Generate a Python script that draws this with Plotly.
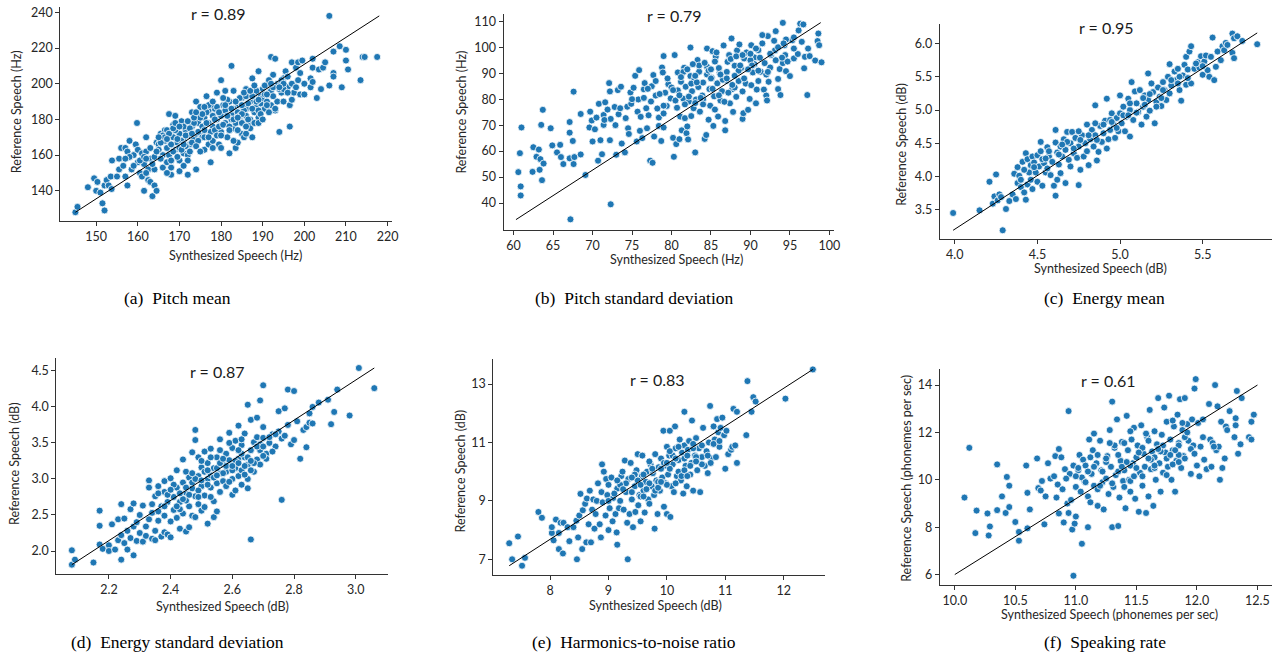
import plotly.graph_objects as go

W, H = 1286, 658

# ---------------- data ----------------
a_x = [145,145.5,148,149.5,150,150.3,151,151.5,152,152,152.5,153,153.5,153.7,153.8,155.5,155.5,156,156.5,157,157.5,157,157.5,158,158.5,159,159.5,159.8,160,160,160.5,161,161,161.5,161.5,162,162,162.5,162.5,163,163,163.5,164,164.5,164.5,165,165.5,166,166,166.5,167,167,167.5,168,168,168.5,168.5,169,169,169.5,170,170,170.5,171,171,171.5,172,172,172.5,173,173,173.5,174,174,174.5,175,175,175.5,176,176,176.5,177,177,177.5,178,178,178.5,179,179,179.5,180,180,180.5,181,181,181.5,182,182,182.5,182.5,183,183,183.5,184,184,184.5,185,185,185.5,186,186,186.5,187,187,187.5,187.5,188,188,188.5,189,189,189.5,190,190,190.5,191,191.5,192,192,192.5,193,193,193.5,193.5,194,194.5,195,195,195.5,196,196.5,196.5,197,197,197.5,198,198.5,198.5,199,199,199.5,200,200,201.5,201.5,202,202,202,203,203.5,204,204.5,205,206,206,207,207,207,208.5,209,210,210,210.5,213.5,214,214.5,217.5,
       160.5,161.5,162,163,164,165,165.5,166.5,167,167.5,168,168.5,169,169.5,170,170.5,171,171.5,172,172.5,173,173.5,174,174.5,175,175.5,176,176.5,177,177.5,178,178.5,179,179.5,180,180.5,181,181.5,182,182.5,183,183.5,184,184.5,185,185.5,186,186.5,187,187.5,188,188.5,189,189.5,190,190.5,191,191.5,192,192.5,193,194,194.5,195,196,197,198,186,184,178,176,174,172,170,168,166,164,162,159,158,157,155,167,171,183,185,180,177,191,189,186,
       163.5,164.5,165.5,166.5,167.5,168.5,169.5,170.5,171.5,172.5,173.5,174.5,175.5,176.5,177.5,178.5,179.5,180.5,181.5,182.5,183.5,184.5,185.5,186.5,187.5,188.5,189.5,190.5,191.5,192.5,165,167,169,171,173,175,177,179,181,183,185,187,189,191,193,195,170,172,174,176,178,180,182,184,186,188,190,192,194,196]
a_y = [128,131,142,147,140,145,139,133,129,143,146,143,148,141,157,152,158,164,154,148,143,164,162,168,152,160,166,178,163,156,150,148,161,140,155,170,162,146,152,145,158,137,143,140,167,166,172,160,153,174,164,156,183,149,153,170,177,163,182,167,157,172,179,161,168,174,160,149,166,184,176,170,152,190,178,187,173,170,181,163,193,166,185,156,176,168,186,195,180,166,202,173,188,196,178,170,161,190,210,183,175,196,164,188,167,180,172,192,170,197,186,177,190,180,170,203,194,184,188,207,181,193,197,188,186,199,195,215,188,205,214,185,200,190,173,195,203,190,207,198,176,188,212,200,195,209,202,212,194,206,213,200,194,203,198,214,209,201,192,208,197,209,212,238,199,218,206,204,221,198,219,213,208,202,215,215,215,
       157,159,150,164,159,163,158,168,174,160,166,162,174,159,164,168,176,165,171,162,167,178,172,168,181,176,170,184,178,173,182,174,187,176,182,177,185,191,176,180,186,178,184,192,178,185,182,189,175,186,178,196,185,189,192,199,190,184,196,193,199,197,202,197,204,191,198,172,174,164,174,165,157,151,157,171,152,158,154,159,158,148,150,154,168,188,164,170,188,178,193,
       155,162,167,170,172,175,169,163,171,175,181,173,183,178,188,180,184,192,182,186,190,182,195,180,193,190,183,194,202,198,170,169,178,166,172,162,188,171,188,180,183,196,191,194,186,200,176,179,184,187,190,171,174,181,176,199,180,200,198,195]
a_line_x = [145, 218]
a_line_y = [128, 238]

b_x = [60.6,60.8,60.9,60.9,61.0,62.4,62.5,62.9,63.2,63.4,63.5,63.6,63.7,63.8,63.3,64.7,64.9,65.5,65.9,66.0,66.3,67.1,67.1,67.1,67.2,67.5,67.6,67.7,67.6,68.5,69.1,68.5,69.7,69.6,69.9,70.0,70.3,70.5,70.7,70.8,71.0,71.2,71.4,71.4,71.6,71.9,72.1,72.2,72.2,72.3,72.3,72.8,72.9,73.0,73.2,73.3,73.6,73.7,74.1,74.2,74.4,74.5,74.6,74.8,74.9,75.2,75.4,75.6,75.7,75.8,75.9,76.0,76.1,76.3,76.5,76.6,76.8,76.9,77.1,77.3,77.4,77.6,77.7,77.8,78.0,78.2,78.4,78.4,78.7,78.8,78.9,79.0,79.0,79.2,79.4,79.6,79.9,80.2,80.3,80.4,80.6,80.7,80.8,80.8,81.0,81.1,81.2,81.3,81.5,81.6,81.7,81.8,81.9,82.1,82.2,82.4,82.4,82.5,82.6,82.8,82.9,83.0,83.1,83.3,83.4,83.5,83.6,83.9,84.0,84.2,84.4,84.5,84.5,84.7,84.8,84.9,85.1,85.2,85.3,85.4,85.5,85.6,85.8,85.9,86.1,86.2,86.4,86.6,86.8,86.8,87.0,87.1,87.3,87.4,87.6,87.7,87.8,88.0,88.2,88.3,88.5,88.6,88.8,89.0,89.1,89.2,89.4,89.6,89.7,89.9,90.1,90.1,90.3,90.5,90.7,90.8,91.0,91.3,91.7,91.8,92.0,92.1,92.2,92.3,92.5,92.6,93.1,93.2,93.5,93.7,93.8,94.1,94.1,94.3,94.4,94.5,94.7,95.0,95.3,95.5,96.0,96.1,96.3,96.5,96.7,96.8,96.9,97.2,97.3,97.5,98.2,98.5,98.6,98.7,99.0,95.5,93.5,91.5,
       76.5,77.5,78.5,79.5,80.5,81.5,82.5,83.5,84.5,85.5,86.5,87.5,88.5,89.5,90.5,91.5,92.5,93.5,94.5,95.5,78,80,82,84,86,88,90,92,94,79,81,83,85,87,89,91,93,82,84,86,88,90,
       80.2,81.2,82.2,83.2,84.2,85.2,86.2,87.2,88.2,89.2,90.2,91.2,92.2,93.2,94.2,81.7,82.7,83.7,84.7,85.7,86.7,87.7,88.7,89.7,90.7,83.0,85.0,87.0,89.0,91.0,77.0,79.0,75.0,73.5,71.5]
b_y = [51.9,59.2,46.4,42.9,69.1,52.0,61.5,57.8,60.6,56.9,70.1,48.8,75.9,55.2,52.8,68.8,62.2,59.5,62.4,57.7,55.0,71.2,67.1,57.2,33.7,63.9,82.9,57.7,55.0,58.7,50.8,74.3,75.2,69.1,71.8,63.7,68.4,72.9,56.3,78.2,64.2,58.8,73.9,70.1,78.8,76.0,86.2,83.0,64.2,39.5,72.4,77.0,70.0,58.6,83.5,74.2,84.8,62.9,59.5,72.7,77.1,68.8,66.6,82.6,78.2,84.4,89.0,63.7,75.2,79.9,91.2,67.8,73.2,65.0,83.8,86.2,76.5,68.8,73.8,56.3,79.1,55.5,89.3,65.6,81.4,76.4,72.9,69.7,63.9,92.2,90.3,96.6,69.1,82.5,77.4,85.8,80.3,65.1,57.8,97.0,62.7,76.7,83.4,90.3,64.6,73.3,86.7,68.0,80.2,92.1,72.7,84.8,66.9,64.5,79.1,88.9,99.9,73.5,83.1,76.5,87.8,59.5,79.9,95.1,84.7,90.6,75.2,81.4,86.4,64.7,66.2,99.5,92.5,72.1,83.9,77.5,88.3,98.5,69.7,81.1,76.0,96.3,86.1,73.3,90.2,79.5,83.1,100.7,71.6,68.0,87.1,94.4,97.0,78.4,103.4,83.9,75.1,92.9,80.9,98.8,87.0,101.1,91.9,72.4,74.6,95.7,86.0,97.7,75.9,80.1,100.8,85.4,90.3,96.1,78.4,83.7,98.9,90.6,83.7,93.9,81.4,79.5,104.3,86.7,92.2,97.0,98.8,106.2,83.9,91.6,81.6,93.9,109.4,100.8,97.0,90.8,94.5,88.9,102.7,95.7,97.4,106.5,109.1,102.1,108.8,91.9,96.3,81.6,99.5,96.6,94.9,102.4,105.3,100.8,94.2,103.8,87.8,104.7,
       80.5,85.0,82.0,88.0,79.5,90.5,86.0,93.0,89.5,94.5,87.5,95.5,91.0,98.0,93.5,101.5,97.5,100.0,103.0,99.5,87.0,84.5,91.5,80.0,92.0,84.5,95.0,89.5,96.0,74.5,81.5,78.5,88.0,90.5,83.0,87.0,102.5,69.5,78.0,81.5,89.0,97.5,
       83.5,88.5,81.0,86.5,94.0,84.0,89.5,82.5,96.5,88.0,93.0,96.0,90.5,95.0,101.5,78.0,93.5,80.5,91.0,98.0,79.0,85.5,93.0,91.5,99.5,89.0,91.5,88.0,97.0,91.0,84.0,77.5,80.0,76.5,72.0]
b_line_x = [60.3, 98.9]
b_line_y = [33.6, 109.5]

c_x = [3.99,4.15,4.21,4.23,4.24,4.25,4.26,4.27,4.28,4.29,4.31,4.33,4.35,4.36,4.37,4.38,4.38,4.39,4.40,4.40,4.41,4.42,4.43,4.43,4.44,4.44,4.45,4.46,4.46,4.47,4.47,4.48,4.49,4.50,4.50,4.51,4.52,4.52,4.53,4.54,4.55,4.56,4.56,4.57,4.58,4.59,4.60,4.61,4.61,4.61,4.62,4.62,4.63,4.64,4.64,4.65,4.66,4.67,4.67,4.68,4.69,4.70,4.70,4.71,4.72,4.73,4.74,4.75,4.75,4.76,4.77,4.78,4.79,4.80,4.80,4.81,4.82,4.83,4.84,4.85,4.85,4.86,4.87,4.88,4.89,4.90,4.91,4.92,4.92,4.93,4.94,4.95,4.96,4.97,4.98,4.99,5.00,5.00,5.01,5.02,5.03,5.04,5.05,5.06,5.06,5.07,5.08,5.09,5.10,5.11,5.12,5.13,5.14,5.15,5.16,5.17,5.17,5.18,5.19,5.20,5.21,5.22,5.23,5.24,5.25,5.26,5.27,5.28,5.29,5.30,5.30,5.31,5.33,5.34,5.35,5.36,5.37,5.38,5.39,5.40,5.40,5.41,5.42,5.43,5.43,5.45,5.47,5.48,5.49,5.50,5.51,5.52,5.53,5.54,5.55,5.56,5.57,5.58,5.59,5.61,5.62,5.63,5.64,5.65,5.68,5.68,5.69,5.69,5.71,5.74,5.83,
       4.42,4.48,4.53,4.57,4.63,4.68,4.72,4.76,4.81,4.86,4.9,4.94,4.98,5.02,5.06,5.1,5.14,5.18,5.22,5.26,5.31,5.36,5.41,5.46,5.5,4.55,4.65,4.75,4.85,4.95,5.05,5.15,5.25,5.35]
c_y = [3.45,3.49,3.92,3.59,3.70,4.03,3.64,3.73,3.69,3.19,3.51,3.63,3.73,4.04,3.66,4.14,3.90,4.01,3.84,3.95,4.22,3.76,3.65,4.35,4.26,3.88,4.06,3.95,4.17,3.81,4.30,4.21,4.06,4.32,3.92,4.15,4.52,4.38,3.86,4.20,4.06,4.44,4.12,4.30,4.02,4.22,3.86,3.71,4.51,4.70,4.36,3.95,4.18,4.05,4.45,4.30,4.56,4.40,3.90,4.67,4.25,4.15,4.50,4.67,4.35,4.58,4.28,3.87,4.45,4.10,4.62,4.30,4.50,4.78,4.38,4.17,4.56,4.70,4.45,4.62,5.07,4.24,4.37,4.76,4.52,4.65,4.84,4.42,5.17,4.56,4.70,4.95,4.78,4.58,4.88,4.68,5.22,4.95,4.80,5.05,4.68,4.90,5.17,4.60,5.00,5.42,4.85,5.28,5.10,4.97,5.30,4.78,5.05,5.22,4.90,5.55,5.15,4.99,5.40,5.27,4.80,5.12,5.34,5.20,5.06,5.42,5.30,5.15,5.50,5.69,5.25,5.37,5.58,5.45,5.62,5.30,5.14,5.52,5.68,5.80,5.38,5.61,5.88,5.96,5.40,5.62,5.72,5.64,5.81,5.53,5.73,5.82,5.60,5.50,5.80,6.09,5.45,5.65,5.88,5.75,5.96,5.90,6.01,5.98,6.15,5.86,6.08,5.78,6.11,6.04,5.99,
       4.1,4.14,4.26,4.38,4.33,4.52,4.42,4.55,4.62,4.55,4.78,4.85,4.73,4.92,5.1,4.96,5.18,5.24,5.05,5.3,5.45,5.5,5.48,5.7,5.66,4.27,4.48,4.68,4.8,4.82,4.92,5.08,5.18,5.4]
c_line_x = [3.99, 5.83]
c_line_y = [3.19, 6.16]

d_x = [2.08,2.08,2.09,2.15,2.17,2.17,2.17,2.18,2.20,2.20,2.21,2.22,2.23,2.23,2.24,2.24,2.24,2.25,2.25,2.26,2.26,2.27,2.27,2.28,2.28,2.28,2.29,2.29,2.30,2.31,2.31,2.32,2.32,2.33,2.33,2.33,2.34,2.34,2.35,2.35,2.35,2.36,2.36,2.37,2.37,2.38,2.38,2.38,2.38,2.39,2.39,2.40,2.40,2.40,2.41,2.41,2.42,2.42,2.42,2.43,2.43,2.44,2.44,2.44,2.45,2.45,2.45,2.46,2.46,2.46,2.47,2.47,2.47,2.48,2.48,2.48,2.48,2.49,2.49,2.49,2.50,2.50,2.50,2.51,2.51,2.51,2.52,2.52,2.52,2.53,2.53,2.53,2.54,2.54,2.54,2.55,2.55,2.55,2.56,2.56,2.56,2.57,2.57,2.58,2.58,2.58,2.59,2.59,2.60,2.60,2.60,2.61,2.61,2.61,2.62,2.62,2.62,2.63,2.63,2.63,2.64,2.64,2.65,2.65,2.65,2.65,2.66,2.66,2.66,2.67,2.67,2.68,2.68,2.68,2.69,2.69,2.69,2.70,2.70,2.70,2.71,2.72,2.73,2.74,2.75,2.75,2.76,2.76,2.77,2.77,2.78,2.78,2.79,2.80,2.80,2.81,2.82,2.83,2.84,2.84,2.85,2.85,2.86,2.86,2.88,2.91,2.92,2.93,2.94,2.98,3.01,3.06,
       2.36,2.39,2.41,2.43,2.45,2.47,2.49,2.51,2.53,2.55,2.57,2.59,2.61,2.63,2.65,2.67,2.69,2.71,2.73,2.42,2.46,2.5,2.54,2.58,2.62,2.66,2.7,2.44,2.48,2.52,2.56,2.6,2.64,2.68,2.72,2.74,2.3,2.34,
       2.45,2.47,2.5,2.52,2.55,2.57,2.6,2.62,2.64,2.4,2.43,2.38,2.36,2.56,2.59,2.63,2.66,2.53,2.49,2.7]
d_y = [2.01,1.81,1.88,1.84,2.56,2.35,2.09,2.03,2.08,2.00,2.37,2.02,2.44,2.15,2.22,2.65,1.88,2.45,2.11,2.28,2.02,2.58,2.18,2.66,2.34,1.94,2.40,2.14,2.25,2.13,2.63,2.34,2.21,2.98,2.88,2.44,2.53,2.17,2.28,2.76,2.15,2.90,2.42,2.62,2.20,2.97,2.82,2.49,2.26,2.68,2.23,2.41,3.01,2.19,2.75,2.57,2.88,3.12,2.46,2.68,2.31,2.95,2.52,3.27,2.81,2.27,3.10,2.62,2.33,3.02,2.87,2.49,3.37,3.68,3.54,2.76,2.47,3.04,2.65,3.30,2.90,2.56,3.16,2.77,3.38,2.61,3.00,2.38,3.22,2.88,3.05,3.42,2.69,2.47,3.15,2.94,3.30,2.55,3.55,3.08,2.82,3.20,2.97,3.35,3.10,2.90,3.64,3.26,3.00,2.78,3.43,3.15,2.84,3.53,3.28,3.04,3.74,3.47,3.12,2.92,3.63,3.30,3.20,3.00,4.03,2.87,3.82,3.40,2.16,3.51,3.10,3.27,3.58,3.85,4.09,3.40,3.20,3.57,4.30,3.72,3.35,3.50,3.62,3.45,3.94,3.66,3.56,2.71,3.98,3.60,4.24,3.75,3.48,3.54,4.22,3.80,3.28,3.68,3.72,3.44,3.91,3.78,4.00,3.77,4.06,4.10,3.76,3.93,4.24,3.88,4.54,4.26,
       2.55,2.78,2.92,2.58,2.7,2.95,2.84,3.1,2.75,3.15,3.08,2.96,3.25,3.35,3.3,3.22,3.48,3.28,3.38,2.62,2.78,3.25,3.02,3.18,3.4,3.12,3.32,2.72,3.0,2.92,3.22,3.12,3.18,3.45,3.58,3.62,2.5,2.65,
       2.88,3.08,2.98,3.12,3.05,3.28,3.18,3.22,3.06,2.85,2.8,2.62,2.8,3.4,3.5,3.55,3.25,3.3,2.75,3.45]
d_line_x = [2.08, 3.06]
d_line_y = [1.81, 4.54]

e_x = [7.3,7.35,7.45,7.52,7.57,7.8,7.86,8.03,8.03,8.06,8.1,8.15,8.15,8.18,8.22,8.23,8.3,8.33,8.4,8.45,8.46,8.48,8.5,8.52,8.55,8.56,8.6,8.62,8.63,8.66,8.68,8.7,8.72,8.74,8.76,8.78,8.8,8.82,8.85,8.87,8.88,8.89,8.9,8.92,8.95,8.96,8.98,9.0,9.0,9.02,9.05,9.07,9.08,9.12,9.14,9.15,9.15,9.18,9.2,9.22,9.24,9.26,9.28,9.3,9.32,9.33,9.34,9.36,9.38,9.4,9.42,9.45,9.46,9.48,9.5,9.51,9.53,9.55,9.57,9.58,9.6,9.62,9.64,9.66,9.68,9.7,9.72,9.74,9.76,9.78,9.79,9.8,9.82,9.84,9.86,9.88,9.9,9.92,9.94,9.95,9.96,9.98,10.0,10.0,10.02,10.04,10.05,10.06,10.08,10.1,10.12,10.14,10.15,10.17,10.2,10.22,10.24,10.26,10.28,10.3,10.3,10.32,10.34,10.36,10.38,10.4,10.42,10.43,10.45,10.48,10.5,10.52,10.55,10.57,10.6,10.62,10.65,10.68,10.7,10.72,10.74,10.76,10.8,10.82,10.84,10.86,10.88,10.9,10.92,10.95,10.98,11.0,11.02,11.05,11.1,11.12,11.14,11.17,11.2,11.2,11.36,11.38,11.45,11.48,11.52,12.03,12.5,
       9.3,9.4,9.5,9.6,9.7,9.8,9.9,10.0,10.1,10.2,10.3,10.4,10.5,10.6,9.45,9.55,9.65,9.75,9.85,9.95,10.05,10.15,10.25,10.35,10.45,9.2,9.1,10.7,10.8,9.0,
       9.4,9.55,9.7,9.85,10.0,10.15,10.3,10.45,10.6,9.6,9.75,9.9,10.05,10.2,10.35,9.25,9.15,10.5,10.75,10.9]
e_y = [7.55,7.0,7.78,6.78,7.05,8.62,8.42,7.9,8.1,7.65,8.36,7.35,7.9,8.25,7.2,8.25,8.1,7.62,8.1,8.32,7.0,7.75,8.5,9.24,7.35,8.68,8.9,7.58,9.08,8.2,9.35,7.58,8.7,9.05,8.05,8.55,9.0,9.6,8.2,7.75,9.3,10.25,8.95,10.0,8.5,9.75,9.2,8.0,9.55,8.75,9.8,8.3,9.1,8.55,7.92,9.42,7.5,8.75,9.0,9.85,10.0,8.7,10.38,9.3,8.25,7.0,9.75,8.55,10.3,9.05,8.1,9.5,8.62,10.05,10.6,8.85,9.2,8.3,9.85,10.55,9.35,8.6,9.65,10.0,9.05,8.9,10.25,9.5,9.95,9.2,8.05,10.6,9.7,8.55,10.15,9.35,10.45,9.8,11.4,8.8,10.2,9.6,8.55,10.85,9.9,10.55,11.4,8.45,9.5,10.25,9.3,11.55,10.8,9.85,10.4,11.1,9.7,10.65,9.25,12.05,10.9,10.2,9.5,10.75,11.05,9.9,10.3,11.75,9.35,10.55,11.15,10.05,10.8,9.3,10.5,11.5,10.2,10.7,9.95,11.0,12.25,10.45,11.55,11.1,10.5,11.8,11.35,10.85,11.5,11.85,11.25,10.1,11.4,10.6,10.75,10.85,12.15,10.9,10.3,12.05,11.25,13.1,12.05,12.55,12.4,12.5,13.5,
       9.6,9.3,9.7,9.9,9.6,9.35,10.1,9.55,10.55,10.0,10.45,10.2,10.5,10.9,9.9,9.55,9.4,10.05,9.65,10.3,10.1,10.45,9.85,10.55,10.8,9.55,9.25,10.55,10.95,9.0,
       9.8,9.15,10.35,9.45,10.3,9.6,10.05,10.95,10.25,9.15,10.1,9.65,10.7,10.85,9.85,9.4,9.7,10.35,10.3,11.05]
e_line_x = [7.3, 12.5]
e_line_y = [6.78, 13.5]

f_x = [10.08,10.12,10.17,10.18,10.27,10.28,10.29,10.35,10.35,10.39,10.42,10.43,10.45,10.45,10.5,10.53,10.53,10.59,10.6,10.6,10.62,10.68,10.69,10.71,10.72,10.74,10.75,10.77,10.79,10.82,10.83,10.84,10.85,10.86,10.86,10.88,10.89,10.9,10.91,10.93,10.94,10.94,10.95,10.96,10.97,10.98,10.98,10.99,11.0,11.0,11.02,11.03,11.04,11.05,11.06,11.07,11.08,11.1,11.1,11.11,11.12,11.13,11.14,11.15,11.17,11.18,11.18,11.2,11.21,11.22,11.23,11.25,11.26,11.27,11.28,11.29,11.3,11.3,11.31,11.32,11.33,11.34,11.35,11.36,11.37,11.38,11.39,11.4,11.41,11.42,11.43,11.44,11.45,11.46,11.47,11.48,11.49,11.5,11.51,11.52,11.53,11.54,11.55,11.56,11.57,11.58,11.59,11.6,11.61,11.62,11.63,11.64,11.65,11.66,11.67,11.68,11.69,11.7,11.71,11.72,11.73,11.74,11.75,11.76,11.77,11.78,11.79,11.8,11.81,11.82,11.83,11.84,11.85,11.86,11.87,11.88,11.89,11.9,11.9,11.92,11.93,11.95,11.96,11.97,11.98,11.99,12.0,12.01,12.02,12.03,12.05,12.06,12.08,12.1,12.11,12.12,12.13,12.15,12.16,12.17,12.18,12.19,12.2,12.21,12.23,12.24,12.25,12.27,12.31,12.32,12.33,12.34,12.36,12.37,12.43,12.45,12.45,12.47,12.32,12.14,
       11.05,11.15,11.25,11.35,11.45,11.55,11.65,11.75,11.85,11.95,11.2,11.3,11.4,11.5,11.6,11.7,11.8,11.9,11.1,11.0,11.35,11.45,11.55,11.65,11.75,11.85,
       11.02,11.12,11.22,11.32,11.42,11.52,11.62,11.72,11.82,11.92,11.08,11.18,11.28,11.38,11.48,11.58,11.68,11.78,11.88,11.98,11.25,11.45,11.65,11.85,12.05,10.92,11.15,11.4,11.6,11.8]
f_y = [9.25,11.35,7.75,8.7,8.58,7.65,8.03,10.65,8.72,9.3,8.6,10.12,8.85,9.75,8.22,7.8,7.43,10.6,9.45,7.95,8.75,10.9,9.65,9.55,9.95,8.12,9.3,10.7,10.05,10.15,11.0,9.25,9.8,11.3,8.58,10.95,9.6,8.2,10.45,9.0,12.9,8.6,10.25,9.15,7.9,10.6,5.95,8.15,9.7,8.45,10.4,11.05,9.5,7.3,10.85,9.95,10.6,9.3,8.0,11.7,9.05,10.25,11.25,9.75,10.7,9.6,8.9,11.65,10.4,9.9,8.75,10.05,11.0,9.4,12.1,10.55,13.3,8.0,9.7,11.35,10.2,12.55,8.05,9.25,10.8,11.6,9.95,10.4,8.8,12.7,11.25,10.0,9.5,11.7,10.7,12.2,9.2,10.95,11.45,8.65,10.3,12.3,9.75,11.1,10.55,8.6,11.8,9.3,12.95,10.45,11.2,8.9,12.05,10.0,11.5,13.45,10.7,9.5,11.9,10.3,13.05,11.15,12.45,10.55,13.55,11.7,10.0,11.25,12.25,9.5,10.8,12.75,11.55,13.4,10.5,12.1,11.0,13.45,10.9,12.35,11.65,10.25,12.55,11.45,13.85,14.25,10.6,12.4,10.15,11.4,12.55,10.85,10.45,13.2,11.7,10.55,11.55,14.0,11.25,13.1,11.4,10.0,12.45,10.5,10.9,12.25,12.1,12.9,11.8,12.6,13.75,11.1,11.5,13.45,11.8,12.45,11.7,12.75,12.3,11.4,
       10.1,10.55,10.75,10.35,10.6,10.15,10.5,10.9,11.05,11.3,9.75,9.85,11.55,10.5,11.65,11.2,10.65,11.8,10.35,10.15,11.05,9.95,11.35,10.95,10.2,11.45,
       10.5,10.95,10.35,11.45,10.75,11.15,10.85,11.45,11.25,12.0,9.9,11.05,11.55,10.55,10.15,11.95,11.3,11.05,12.4,11.1,10.9,12.05,10.6,10.75,11.8,10.05,11.95,9.7,10.9,12.5]
f_line_x = [10.0, 12.5]
f_line_y = [6.0, 14.0]

r_labels = ["r = 0.89", "r = 0.79", "r = 0.95", "r = 0.87", "r = 0.83", "r = 0.61"]
captions = ["(a)  Pitch mean", "(b)  Pitch standard deviation", "(c)  Energy mean",
            "(d)  Energy standard deviation", "(e)  Harmonics-to-noise ratio", "(f)  Speaking rate"]
x_titles = ["Synthesized Speech (Hz)", "Synthesized Speech (Hz)", "Synthesized Speech (dB)",
            "Synthesized Speech (dB)", "Synthesized Speech (dB)", "Synthesized Speech (phonemes per sec)"]
y_titles = ["Reference Speech (Hz)", "Reference Speech (Hz)", "Reference Speech (dB)",
            "Reference Speech (dB)", "Reference Speech (dB)", "Reference Speech (phonemes per sec)"]
x_ticks = [[150,160,170,180,190,200,210,220], [60,65,70,75,80,85,90,95,100], [4.0,4.5,5.0,5.5],
           [2.2,2.4,2.6,2.8,3.0], [8,9,10,11,12], [10.0,10.5,11.0,11.5,12.0,12.5]]
y_ticks = [[140,160,180,200,220,240], [40,50,60,70,80,90,100,110], [3.5,4.0,4.5,5.0,5.5,6.0],
           [2.0,2.5,3.0,3.5,4.0,4.5], [7,9,11,13], [6,8,10,12,14]]
x_fmt = [None, None, ".1f", ".1f", None, ".1f"]
y_fmt = [None, None, ".1f", ".1f", None, None]

panels = [(a_x, a_y, a_line_x, a_line_y), (b_x, b_y, b_line_x, b_line_y), (c_x, c_y, c_line_x, c_line_y),
          (d_x, d_y, d_line_x, d_line_y), (e_x, e_y, e_line_x, e_line_y), (f_x, f_y, f_line_x, f_line_y)]

# ---------------- layout geometry (pixels) ----------------
boxes = [(60.7, 394, 5, 220), (506, 838.3, 11.7, 228.3), (944.3, 1277.7, 21.7, 237.7),
         (56.7, 390, 356.7, 573.3), (495.7, 829, 358.3, 575), (944.3, 1277.7, 368.3, 585)]
x_ranges = [[141.4, 221.1], [58.74, 100.63], [3.91, 5.918], [2.03, 3.105], [7.029, 12.71], [9.877, 12.618]]
y_ranges = [[122.9, 243.0], [29.75, 112.95], [3.059, 6.3], [1.687, 4.684], [6.454, 13.85], [5.55, 14.67]]
r_pos = [(220, 11.7), (677.3, 13.3), (1111.7, 26), (218.3, 370.7), (661, 378.3), (1114, 380)]
xt_pos = [(236.7, 254), (680, 258.3), (1105.8, 267), (223.3, 606.7), (658.3, 605), (1115, 614.5)]
yt_pos = [(16.7, 110), (463.3, 110.8), (905, 142.5), (14, 462.5), (462.3, 470.8), (910, 477.5)]
cap_pos = [(178, 297), (637, 297), (1110, 297), (178, 642), (637, 642), (1110, 642)]

SANS = "Lato, 'Open Sans', sans-serif"
BLUE = "#1f77b4"

fig = go.Figure()
layout = dict(width=W, height=H, margin=dict(l=0, r=0, t=0, b=0),
              paper_bgcolor="white", plot_bgcolor="white", showlegend=False)
annotations = []

def px(x):
    return x / W

def py(y):
    return 1 - y / H

for i, (xs, ys, lx, ly) in enumerate(panels):
    n = "" if i == 0 else str(i + 1)
    xa, ya = "x" + n, "y" + n
    fig.add_trace(go.Scatter(x=xs, y=ys, mode="markers", xaxis=xa, yaxis=ya,
                             marker=dict(color=BLUE, size=7, line=dict(color="white", width=0.8)),
                             hoverinfo="x+y"))
    fig.add_trace(go.Scatter(x=lx, y=ly, mode="lines", xaxis=xa, yaxis=ya,
                             line=dict(color="black", width=1), hoverinfo="skip"))
    l, r, t, b = boxes[i]
    common = dict(showgrid=False, zeroline=False, showline=True, linecolor="#333333", linewidth=1.2,
                  ticks="outside", ticklen=4, tickcolor="#333333", tickwidth=1,
                  tickfont=dict(family=SANS, size=12.5, color="#262626"), mirror=False)
    layout["xaxis" + n] = dict(common, domain=[px(l), px(r)], range=x_ranges[i], anchor=ya,
                               tickvals=x_ticks[i], tickformat=x_fmt[i] or "")
    layout["yaxis" + n] = dict(common, domain=[py(b), py(t)], range=y_ranges[i], anchor=xa,
                               tickvals=y_ticks[i], tickformat=y_fmt[i] or "")
    annotations.append(dict(text=r_labels[i], x=px(r_pos[i][0]), y=py(r_pos[i][1]), xref="paper", yref="paper",
                            showarrow=False, xanchor="center", yanchor="middle",
                            font=dict(family=SANS, size=16, color="#1a1a1a")))
    annotations.append(dict(text=x_titles[i], x=px(xt_pos[i][0]), y=py(xt_pos[i][1]), xref="paper", yref="paper",
                            showarrow=False, xanchor="center", yanchor="middle",
                            font=dict(family=SANS, size=12.5, color="#262626")))
    annotations.append(dict(text=y_titles[i], x=px(yt_pos[i][0]), y=py(yt_pos[i][1]), xref="paper", yref="paper",
                            showarrow=False, xanchor="center", yanchor="middle", textangle=-90,
                            font=dict(family=SANS, size=12.5, color="#262626")))
    annotations.append(dict(text=captions[i], x=px(cap_pos[i][0]), y=py(cap_pos[i][1]), xref="paper", yref="paper",
                            showarrow=False, xanchor="center", yanchor="middle",
                            font=dict(family="'Liberation Serif', 'Times New Roman', serif", size=17.5, color="black")))

layout["annotations"] = annotations
fig.update_layout(**layout)
fig.write_html("out.html", config={"displayModeBar": False},
               post_script="document.body.style.margin='0';document.body.style.overflow='hidden';")
